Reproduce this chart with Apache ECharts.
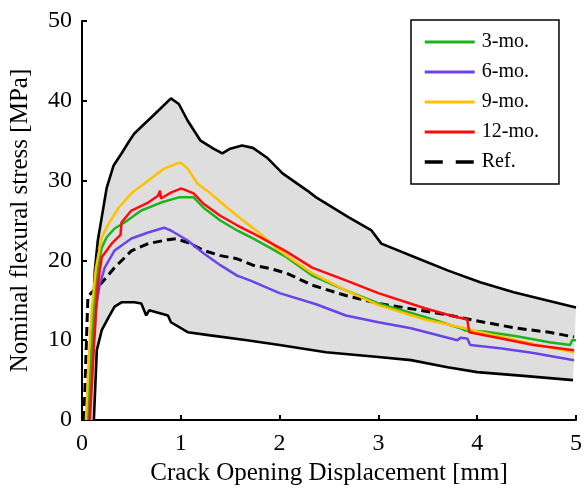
<!DOCTYPE html>
<html>
<head>
<meta charset="utf-8">
<script src="https://cdn.jsdelivr.net/npm/echarts@6/dist/echarts.min.js"></script>
<style>html,body{margin:0;padding:0;background:#fff}#c{width:585px;height:492px}</style>
</head>
<body>
<div id="c"></div>
<script>
const xTicks = [0, 1, 2, 3, 4, 5];
const yTicks = [0, 10, 20, 30, 40, 50];
const seriesNames = ['3-mo.', '6-mo.', '9-mo.', '12-mo.', 'Ref.'];

const upperEnv = [[0.07,0],[0.1,10],[0.13,18.75],[0.16,22.5],[0.2,25.4],[0.25,29.1],[0.32,31.9],[0.4,33.4],[0.48,35],[0.53,35.9],[0.63,37.1],[0.7,37.9],[0.8,39.1],[0.9,40.3],[0.98,39.6],[1.07,37.5],[1.2,35],[1.33,34],[1.42,33.4],[1.5,34],[1.62,34.4],[1.73,34.1],[1.87,32.9],[2.03,30.9],[2.28,28.75],[2.37,27.9],[2.7,25.4],[2.93,23.75],[3.03,22.1],[3.37,20.4],[3.7,18.75],[4.03,17.25],[4.37,16],[4.7,15],[5.0,14.1]];
const lowerEnv = [[0.12,0],[0.15,8.75],[0.2,11.25],[0.27,12.9],[0.33,14.2],[0.4,14.75],[0.53,14.75],[0.6,14.6],[0.65,13.1],[0.68,13.75],[0.87,13.1],[0.9,12.25],[1.07,11],[1.3,10.6],[1.67,10],[2.0,9.4],[2.47,8.5],[3.0,7.9],[3.33,7.5],[3.7,6.6],[4.0,6],[4.5,5.5],[4.97,5]];
const mo3 = [[0.05,0],[0.08,5],[0.12,14],[0.16,19],[0.2,21.6],[0.25,22.9],[0.33,24],[0.43,24.75],[0.6,26.25],[0.8,27.25],[0.98,27.9],[1.13,27.9],[1.23,26.6],[1.4,25],[1.57,23.75],[1.73,22.75],[1.9,21.6],[2.07,20.4],[2.33,18.1],[2.67,16.25],[3.0,14.6],[3.47,12.9],[3.83,11.5],[3.88,11.2],[4.07,11.1],[4.4,10.5],[4.73,9.75],[4.94,9.4],[4.96,10],[5.0,10]];
const mo6 = [[0.06,0],[0.1,8],[0.14,14],[0.18,17],[0.23,19.1],[0.33,21.25],[0.5,22.75],[0.67,23.5],[0.83,24.1],[0.9,23.75],[1.07,22.5],[1.23,20.9],[1.4,19.4],[1.57,18.1],[1.7,17.5],[2.0,15.9],[2.37,14.5],[2.67,13.1],[3.0,12.25],[3.33,11.5],[3.8,10],[3.83,10.3],[3.9,10.2],[3.93,9.4],[4.23,9],[4.57,8.4],[4.98,7.5]];
const mo9 = [[0.04,0],[0.07,8],[0.1,14],[0.14,19],[0.2,22.9],[0.27,24.6],[0.37,26.6],[0.5,28.4],[0.67,30],[0.83,31.5],[0.97,32.2],[1.0,32.25],[1.07,31.5],[1.17,29.6],[1.3,28.4],[1.47,26.6],[1.63,25],[1.8,23.4],[2.0,21.2],[2.33,18.4],[2.67,16.25],[3.0,14.4],[3.47,12.6],[3.73,11.9],[4.07,10.9],[4.4,10],[4.73,9.1],[4.98,8.5]];
const mo12 = [[0.08,0],[0.12,9],[0.16,17],[0.2,20.4],[0.3,22.1],[0.39,23.2],[0.4,24.75],[0.5,26.25],[0.67,27.25],[0.77,28.1],[0.79,28.75],[0.8,27.75],[0.9,28.5],[1.0,29],[1.03,28.9],[1.13,28.4],[1.23,27.1],[1.4,25.6],[1.57,24.4],[1.73,23.4],[1.9,22.25],[2.07,21.1],[2.33,19.1],[2.67,17.5],[3.0,15.9],[3.47,14],[3.73,13.1],[3.9,12.6],[3.92,11],[4.23,10.25],[4.57,9.4],[4.98,8.75]];
const refData = [[0.02,0],[0.04,8],[0.06,15.5],[0.1,16],[0.2,17.2],[0.33,19.1],[0.5,21.2],[0.67,22.1],[0.87,22.6],[0.95,22.7],[1.07,22.25],[1.23,21.25],[1.4,20.6],[1.57,20.2],[1.73,19.4],[1.9,19],[2.07,18.4],[2.33,16.9],[2.67,15.6],[3.0,14.6],[3.4,13.8],[3.73,13.1],[4.07,12.25],[4.4,11.5],[4.73,11],[4.98,10.4]];

const FONT = 'Liberation Serif';
const chart = echarts.init(document.getElementById('c'), null, {renderer: 'canvas'});

const band = {
  type: 'custom',
  silent: true,
  z: 1,
  data: [0],
  renderItem: function (params, api) {
    const pts = upperEnv.map(p => api.coord(p)).concat(lowerEnv.slice().reverse().map(p => api.coord(p)));
    return {type: 'polygon', shape: {points: pts}, style: {fill: '#dedede', stroke: null}};
  }
};

function lineSeries(name, data, color, lineStyle, z) {
  return {
    name: name, type: 'line', data: data, symbol: 'none', showSymbol: false, smooth: false,
    lineStyle: lineStyle || {color: color, width: 2.5},
    itemStyle: {color: 'rgba(0,0,0,0)', opacity: 0},
    z: z || 3, animation: false
  };
}

const legendData = seriesNames.map(n => n === 'Ref.' ? {name: n, lineStyle: {type: [18, 13], width: 3.5}} : {name: n});

chart.setOption({
  animation: false,
  grid: {left: 80, right: 7, top: 21, bottom: 72, containLabel: false},
  legend: {
    data: legendData,
    orient: 'vertical',
    left: 411, top: 20,
    padding: [12, 20, 12, 12],
    itemWidth: 50, itemHeight: 14, itemGap: 10,
    borderColor: '#000', borderWidth: 1.5,
    backgroundColor: '#fff',
    itemStyle: {opacity: 0},
    lineStyle: {width: 3},
    textStyle: {fontFamily: FONT, fontSize: 20, color: '#000', padding: [0, 0, 0, 2]}
  },
  xAxis: {
    type: 'value', min: 0, max: 5, interval: 1,
    name: 'Crack Opening Displacement [mm]', nameLocation: 'middle', nameGap: 32,
    nameTextStyle: {fontFamily: FONT, fontSize: 25, color: '#000'},
    axisLine: {show: true, onZero: false, lineStyle: {color: '#000', width: 2}},
    axisTick: {show: true, inside: true, length: 5, lineStyle: {color: '#000', width: 2}},
    axisLabel: {fontFamily: FONT, fontSize: 24, color: '#000', margin: 12},
    splitLine: {show: false}
  },
  yAxis: {
    type: 'value', min: 0, max: 50, interval: 10,
    name: 'Nominal flexural stress [MPa]', nameLocation: 'middle', nameGap: 49,
    nameTextStyle: {fontFamily: FONT, fontSize: 25, color: '#000'},
    axisLine: {show: true, onZero: false, lineStyle: {color: '#000', width: 2}},
    axisTick: {show: true, inside: true, length: 5, lineStyle: {color: '#000', width: 2}},
    axisLabel: {fontFamily: FONT, fontSize: 24, color: '#000', margin: 10},
    splitLine: {show: false}
  },
  series: [
    band,
    lineSeries('upper', upperEnv, '#000', {color: '#000', width: 2.6}, 2),
    lineSeries('lower', lowerEnv, '#000', {color: '#000', width: 2.6}, 2),
    lineSeries('Ref.', refData, '#000', {color: '#000', width: 3, type: [9, 5]}, 3),
    lineSeries('6-mo.', mo6, '#6a44e6'),
    lineSeries('3-mo.', mo3, '#1db31d'),
    lineSeries('9-mo.', mo9, '#ffc000'),
    lineSeries('12-mo.', mo12, '#ff0a0a')
  ]
});
</script>
</body>
</html>
